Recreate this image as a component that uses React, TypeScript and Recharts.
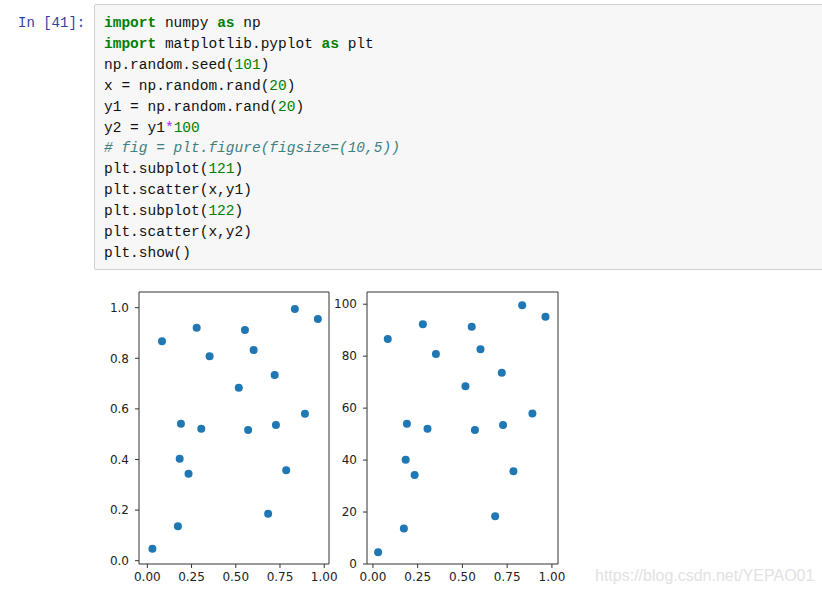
import React from "react"
import { ScatterChart, Scatter, XAxis, YAxis, ReferenceArea } from "recharts"

// x = np.random.rand(20), y1 = np.random.rand(20), y2 = y1*100
const xs = [0.083, 0.279, 0.352, 0.552, 0.601, 0.517, 0.72, 0.834, 0.964, 0.19, 0.305, 0.57, 0.727, 0.891, 0.183, 0.233, 0.785, 0.683, 0.173, 0.029]
const y1 = [0.867, 0.921, 0.808, 0.912, 0.833, 0.684, 0.734, 0.995, 0.955, 0.541, 0.522, 0.517, 0.536, 0.581, 0.403, 0.344, 0.358, 0.186, 0.136, 0.047]
const y2 = [86.6, 92.3, 80.8, 91.3, 82.7, 68.4, 73.6, 99.6, 95.2, 54.0, 52.1, 51.6, 53.5, 57.9, 40.1, 34.3, 35.7, 18.4, 13.7, 4.5]

const xTicks = [0, 0.25, 0.5, 0.75, 1]
const y1Ticks = [0, 0.2, 0.4, 0.6, 0.8, 1.0]
const y2Ticks = [0, 20, 40, 60, 80, 100]

const K = "#008000" // keyword / number green
const O = "#AA22FF" // operator purple
const C = "#408080" // comment

// code cell lines as [text, color?, bold?, italic?]
const codeLines: [string, string?, boolean?, boolean?][][] = [
  [["import", K, true], [" numpy "], ["as", K, true], [" np"]],
  [["import", K, true], [" matplotlib.pyplot "], ["as", K, true], [" plt"]],
  [["np.random.seed("], ["101", K], [")"]],
  [["x = np.random.rand("], ["20", K], [")"]],
  [["y1 = np.random.rand("], ["20", K], [")"]],
  [["y2 = y1"], ["*", O], ["100", K]],
  [["# fig = plt.figure(figsize=(10,5))", C, false, true]],
  [["plt.subplot("], ["121", K], [")"]],
  [["plt.scatter(x,y1)"]],
  [["plt.subplot("], ["122", K], [")"]],
  [["plt.scatter(x,y2)"]],
  [["plt.show()"]],
]

const tickStyle = { fill: "#222", fontSize: 12, fontFamily: "DejaVu Sans" }

const Dot = (props: any) => <circle cx={props.cx} cy={props.cy} r={4} fill="#1f77b4" />

interface PanelProps {
  ys: number[]
  xDomain: [number, number]
  yDomain: [number, number]
  yTicks: number[]
  yFmt: (v: number) => string
  left: number
  width: number
}

function Panel({ ys, xDomain, yDomain, yTicks, yFmt, left, width }: PanelProps) {
  const data = xs.map((x, i) => ({ x, y: ys[i] }))
  return (
    <div style={{ position: "absolute", left, top: 285 }}>
      <ScatterChart width={width} height={309} margin={{ top: 7, right: 25, bottom: 0, left: 0 }}>
        <XAxis
          type="number"
          dataKey="x"
          domain={xDomain}
          ticks={xTicks}
          allowDataOverflow
          interval={0}
          tickFormatter={(v: number) => v.toFixed(2)}
          axisLine={false}
          tickSize={4}
          tickMargin={4}
          tickLine={{ stroke: "#333" }}
          tick={tickStyle}
          height={30}
        />
        <YAxis
          type="number"
          dataKey="y"
          domain={yDomain}
          ticks={yTicks}
          allowDataOverflow
          interval={0}
          tickFormatter={yFmt}
          axisLine={false}
          tickSize={4}
          tickMargin={6}
          tickLine={{ stroke: "#333" }}
          tick={tickStyle}
          width={40}
        />
        <Scatter data={data} shape={Dot} isAnimationActive={false} />
        <ReferenceArea
          x1={xDomain[0]}
          x2={xDomain[1]}
          y1={yDomain[0]}
          y2={yDomain[1]}
          fill="none"
          stroke="#333"
          strokeWidth={1}
          ifOverflow="visible"
        />
      </ScatterChart>
    </div>
  )
}

export default function App() {
  return (
    <div style={{ position: "absolute", left: 0, top: 0, width: 822, height: 597, background: "#fff", overflow: "hidden" }}>
      <div
        style={{
          position: "absolute",
          left: 18,
          top: 13,
          fontFamily: "Liberation Mono",
          fontSize: 14,
          lineHeight: "20.9px",
          color: "#303F9F",
        }}
      >
        In [41]:
      </div>
      <div
        style={{
          position: "absolute",
          left: 94,
          top: 4,
          width: 740,
          height: 266,
          background: "#f7f7f7",
          border: "1px solid #cfcfcf",
          borderRadius: 2,
          boxSizing: "border-box",
        }}
      />
      <div
        style={{
          position: "absolute",
          left: 104,
          top: 13,
          fontFamily: "Liberation Mono",
          fontSize: 14.5,
          lineHeight: "20.9px",
          color: "#111",
          whiteSpace: "pre",
        }}
      >
        {codeLines.map((line, i) => (
          <div key={i}>
            {line.map(([t, c, b, it], j) => (
              <span key={j} style={{ color: c || "#111", fontWeight: b ? "bold" : "normal", fontStyle: it ? "italic" : "normal" }}>
                {t}
              </span>
            ))}
          </div>
        ))}
      </div>

      <Panel
        ys={y1}
        xDomain={[-0.047, 1.027]}
        yDomain={[-0.013, 1.062]}
        yTicks={y1Ticks}
        yFmt={(v) => v.toFixed(1)}
        left={99}
        width={255}
      />
      <Panel
        ys={y2}
        xDomain={[-0.033, 1.034]}
        yDomain={[0, 104.7]}
        yTicks={y2Ticks}
        yFmt={(v) => String(v)}
        left={327}
        width={256}
      />

      <div
        style={{
          position: "absolute",
          left: 595,
          top: 567,
          fontFamily: "Liberation Sans",
          fontSize: 16,
          color: "#e2e2e2",
          whiteSpace: "nowrap",
        }}
      >
        https://blog.csdn.net/YEPAO01
      </div>
    </div>
  )
}
